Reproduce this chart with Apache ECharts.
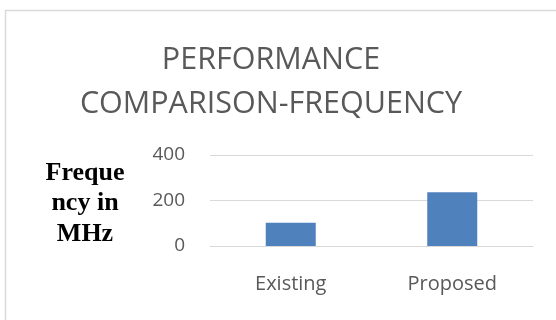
<!DOCTYPE html>
<html>
<head>
<meta charset="utf-8">
<script src="https://cdn.jsdelivr.net/npm/echarts@6/dist/echarts.min.js"></script>
<style>
  html, body { margin: 0; padding: 0; background: #fff; }
  #chart { width: 556px; height: 320px; }
</style>
</head>
<body>
<div id="chart"></div>
<script>
// Frequency comparison data
const categories = ['Existing', 'Proposed'];
const frequencyMHz = [102, 236];
const yTicks = { min: 0, max: 400, interval: 200 };
const titleText = 'PERFORMANCE\nCOMPARISON-FREQUENCY';
const yAxisTitle = 'Freque\nncy in\nMHz';

const chart = echarts.init(document.getElementById('chart'));
chart.setOption({
  backgroundColor: '#ffffff',
  animation: false,
  graphic: [{
    // outer chart-area frame
    type: 'rect',
    shape: { x: 5.5, y: 10.5, width: 700, height: 500 },
    style: { fill: 'none', stroke: '#d9d9d9', lineWidth: 1.5 },
    silent: true
  }, {
    // y-axis title, wrapped over three centred lines
    type: 'text',
    x: 85,
    y: 158,
    style: {
      text: yAxisTitle,
      fontFamily: 'Liberation Serif',
      fontWeight: 'bold',
      fontSize: 26,
      lineHeight: 30.5,
      fill: '#000000',
      align: 'center',
      verticalAlign: 'top'
    },
    silent: true
  }],
  title: {
    text: titleText,
    left: 266,
    textAlign: 'center',
    top: 33,
    textStyle: {
      fontFamily: 'Open Sans',
      fontWeight: 'normal',
      fontSize: 30.5,
      color: '#595959',
      lineHeight: 44
    }
  },
  grid: { left: 210, right: 23, top: 155, bottom: 74 },
  xAxis: {
    type: 'category',
    data: categories,
    axisLine: { show: true, lineStyle: { color: '#d9d9d9', width: 1 } },
    axisTick: { show: false },
    axisLabel: {
      margin: 28,
      fontFamily: 'Open Sans',
      fontSize: 20,
      color: '#595959'
    }
  },
  yAxis: {
    type: 'value',
    min: yTicks.min,
    max: yTicks.max,
    interval: yTicks.interval,
    axisLine: { show: false },
    axisTick: { show: false },
    splitLine: { lineStyle: { color: '#d9d9d9', width: 1 } },
    axisLabel: {
      margin: 25,
      fontFamily: 'Open Sans',
      fontSize: 19,
      color: '#595959'
    }
  },
  series: [{
    type: 'bar',
    data: frequencyMHz,
    barWidth: 50,
    itemStyle: { color: '#4f81bd' }
  }]
});
</script>
</body>
</html>
